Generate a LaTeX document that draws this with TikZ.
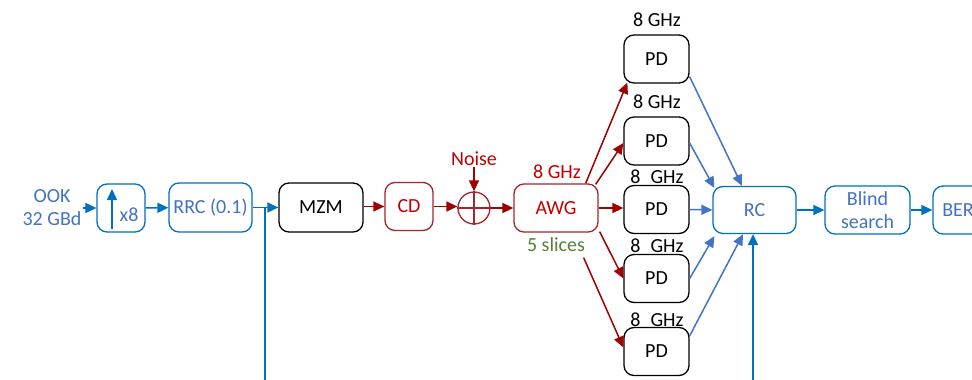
\documentclass[tikz,border=0pt]{standalone}
\usepackage{fontspec}
\setmainfont{Carlito}
\usetikzlibrary{arrows.meta}
\definecolor{bbord}{HTML}{0070C0}
\definecolor{btext}{HTML}{4472C4}
\definecolor{dred}{HTML}{A00000}
\definecolor{rbord}{HTML}{A8232A}
\definecolor{rtext}{HTML}{C00000}
\definecolor{grn}{HTML}{548235}
\begin{document}
\begin{tikzpicture}[x=1pt,y=-1pt,
  font=\fontsize{20}{23}\selectfont,
  box/.style={draw, rounded corners=10pt, line width=1.3pt, inner sep=0pt, align=center, minimum height=48pt},
  bluebox/.style={box, draw=bbord, text=btext},
  blackbox/.style={box, draw=black, text=black},
  redbox/.style={box, draw=rbord, text=rtext},
  tip/.style={-{Triangle[length=11pt,width=10pt]}},
  barrow/.style={tip, draw=bbord, line width=1.5pt},
  larrow/.style={tip, draw=btext, line width=1.5pt},
  rarrow/.style={tip, draw=dred, line width=1.5pt},
  lbl/.style={inner sep=1pt, align=center},
]
\clip (0,0) rectangle (972,380);
\fill[white] (0,0) rectangle (972,380);

% nodes
\node[lbl, text=btext] (ook) at (52,208) {OOK\\32 GBd};
\node[bluebox, minimum width=48pt] (x8) at (121,208) {};
\node[lbl, text=btext] (x8t) at (129,215) {x8};
\coordinate (upA) at (112,229);
\coordinate (upB) at (112,189);
\node[bluebox, minimum width=83pt, minimum height=49pt] (rrc) at (210.5,207.5) {RRC (0.1)};
\node[blackbox, minimum width=84pt, minimum height=49pt] (mzm) at (321,207.5) {MZM};
\node[redbox, minimum width=48pt] (cd) at (409,206.5) {CD};
\node[draw=rbord, circle, line width=1.3pt, minimum size=32pt, inner sep=0pt] (sum) at (474,208) {};
\node[lbl, text=rtext] (noise) at (474,159) {Noise};
\node[redbox, minimum width=84pt] (awg) at (556,208) {AWG};
\node[lbl, text=rtext] (awgf) at (557,172) {8 GHz};
\node[lbl, text=grn] (slices) at (556,245) {5 slices};

\node[blackbox, minimum width=65pt] (pd1) at (656.5,59) {PD};
\node[blackbox, minimum width=65pt] (pd2) at (656.5,141) {PD};
\node[blackbox, minimum width=65pt] (pd3) at (656.5,209.5) {PD};
\node[blackbox, minimum width=65pt] (pd4) at (656.5,278.5) {PD};
\node[blackbox, minimum width=65pt] (pd5) at (656.5,351.5) {PD};
\node[lbl] (f1) at (657,20) {8 GHz};
\node[lbl] (f2) at (657,102) {8 GHz};
\node[lbl] (f3) at (657,177) {8\enspace GHz};
\node[lbl] (f4) at (657,246) {8\enspace GHz};
\node[lbl] (f5) at (657,320) {8\enspace GHz};

\node[bluebox, minimum width=83pt, minimum height=47pt] (rc) at (754.5,210) {RC};
\node[bluebox, minimum width=85pt] (blind) at (867.5,210) {Blind\\search};
\node[bluebox, minimum width=50pt, text width=50pt] (ber) at (958,210) {BER};

\coordinate (tapA) at (265,380);
\coordinate (tapB) at (753,380);

% connectors
\draw[barrow] (ook) -- (x8);
\draw[barrow] (upA) -- (upB);
\draw[barrow] (x8) -- (rrc);
\draw[barrow] (rrc.east) -- (mzm.west);
\draw[bbord, line width=1.5pt] (tapA) -- (tapA |- rrc.east);
\draw[rarrow] (mzm.east |- cd.west) -- (cd.west);
\draw[rarrow] (cd.east) -- (sum.west |- cd.east);
\draw[rarrow] (noise) -- (sum);
\draw[rbord, line width=1.3pt] (sum.north) -- (sum.south) (sum.west) -- (sum.east);
\draw[rarrow] (sum) -- (awg);

\draw[rarrow] ([xshift=-13pt]awg.north east) -- ([shift={(4pt,1pt)}]pd1.south west);
\draw[rarrow] ([shift={(-3pt,-1pt)}]awg.north east) -- ([yshift=-2pt]pd2.west);
\draw[rarrow] (awg.east) -- (awg.east -| pd3.west);
\draw[rarrow] ([shift={(1pt,1pt)}]awg.south east) -- (pd4.west);
\draw[rarrow] ([shift={(-15pt,-25pt)}]awg.south east) -- ([yshift=4pt]pd5.west);

\draw[larrow] ([yshift=7pt]pd1.south east) -- ([xshift=-12.5pt]rc.north);
\draw[larrow] ([yshift=-2pt]pd2.east) -- ([shift={(2pt,-2pt)}]rc.north west);
\draw[larrow] (pd3.east) -- (rc.west);
\draw[larrow] (pd4.east) -- ([shift={(2pt,-2pt)}]rc.south west);
\draw[larrow] ([yshift=-9pt]pd5.north east) -- ([xshift=-11.5pt]rc.south);
\draw[barrow] (tapB) -- (tapB |- rc.south);

\draw[barrow] (rc) -- (blind);
\draw[barrow] (blind) -- (ber);
\end{tikzpicture}
\end{document}
